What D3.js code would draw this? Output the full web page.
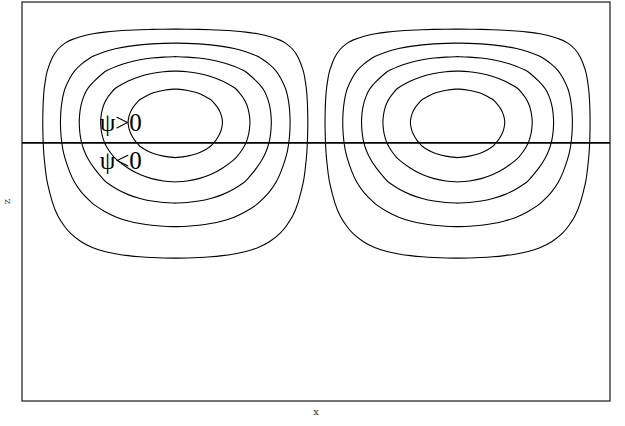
<!DOCTYPE html>
<html>
<head>
<meta charset="utf-8">
<script src="https://cdn.jsdelivr.net/npm/d3@7"></script>
<style>
  html, body { margin: 0; padding: 0; background: #ffffff; }
  svg { display: block; }
</style>
</head>
<body>
<svg id="chart" width="625" height="426"></svg>
<script>
// ---- Stream function data -------------------------------------------------
// Horizontal structure over one half cell (cell edge -> cell centre), evenly spaced.
const xHalfProfile = [0, 0.131, 0.259, 0.383, 0.5, 0.609, 0.707, 0.793, 0.866, 0.924, 0.966, 0.991, 1];
// Cell boundaries in x and the sign of psi in each cell.
const cellEdges = [0, 1, 2];
const cellSigns = [1, -1];
// Vertical structure: heights (z) and amplitude at each height.
const zSamples = [1.0, 0.947, 0.932, 0.897, 0.863, 0.827, 0.782, 0.774, 0.764, 0.754, 0.744, 0.734,
                  0.724, 0.714, 0.704, 0.699, 0.694, 0.684, 0.674, 0.664, 0.654, 0.644, 0.634,
                  0.624, 0.610, 0.549, 0.496, 0.437, 0.358, 0.328, 0.291, 0.253, 0.203, 0.128, 0.0];
const zProfile = [0, 0, 0.1, 0.3, 0.5, 0.7, 0.9, 0.924, 0.953, 0.978, 0.998, 1.015,
                  1.027, 1.035, 1.0395, 1.04, 1.0396, 1.036, 1.029, 1.018, 1.004, 0.986, 0.965,
                  0.94, 0.9, 0.7, 0.5, 0.3, 0.1, 0.065, 0.035, 0.018, 0.006, 0, 0];
// Contour levels of |psi|.
const levels = [0.1, 0.3, 0.5, 0.7, 0.9];
// Height of the dividing line and the sign annotations.
const dividerZ = 0.647;
const signLabels = ["ψ>0", "ψ<0"];
const signLabelX = [0.232, 0.232];
const signLabelZ = [0.677, 0.581];
// Axis titles and plot extent in data units.
const axisTitles = { x: "x", z: "z" };
const xExtent = [-0.043, 2.04];
const zExtent = [0, 1];

// ---- Layout ---------------------------------------------------------------
const svg = d3.select("#chart");
const plot = { left: 22, right: 610, top: 2, bottom: 401 };

const x = d3.scaleLinear().domain(xExtent).range([plot.left, plot.right]);
const y = d3.scaleLinear().domain(zExtent).range([plot.bottom, plot.top]);

// ---- Gridded field psi(x, z) = X(x) * Z(z) --------------------------------
const steps = xHalfProfile.length - 1;          // samples per half cell
const xCols = [], xVals = [];
cellSigns.forEach((s, c) => {
  const x0 = cellEdges[c], x1 = cellEdges[c + 1];
  for (let i = (c === 0 ? 0 : 1); i <= 2 * steps; i++) {
    const k = i <= steps ? i : 2 * steps - i;
    xCols.push(x0 + (x1 - x0) * i / (2 * steps));
    xVals.push(s * xHalfProfile[k]);
  }
});
const nx = xCols.length, ny = zSamples.length;
const field = new Array(nx * ny);
for (let j = 0; j < ny; j++) {
  for (let i = 0; i < nx; i++) field[j * nx + i] = xVals[i] * zProfile[j];
}

// grid coordinates -> data coordinates (grid sample i sits at i + 0.5)
const gx = d3.scaleLinear().domain(d3.range(nx).map(i => i + 0.5)).range(xCols);
const gz = d3.scaleLinear().domain(d3.range(ny).map(j => j + 0.5)).range(zSamples);

const contourGen = d3.contours().size([nx, ny]).thresholds(levels);
const positive = contourGen(field);
const negative = contourGen(field.map(v => -v));

const ring = d3.line()
  .x(p => x(gx(p[0])))
  .y(p => y(gz(p[1])))
  .curve(d3.curveBasisClosed);

const rings = [];
[positive, negative].forEach(set => set.forEach(mp => {
  mp.coordinates.forEach(poly => poly.forEach(r => rings.push(r.slice(0, -1))));
}));

// ---- Frame ----------------------------------------------------------------
svg.append("rect")
  .attr("x", plot.left).attr("y", plot.top)
  .attr("width", plot.right - plot.left).attr("height", plot.bottom - plot.top)
  .attr("fill", "none").attr("stroke", "#2a2a2a").attr("stroke-width", 1.3);

// ---- Contours -------------------------------------------------------------
svg.append("g")
  .selectAll("path")
  .data(rings)
  .join("path")
  .attr("d", ring)
  .attr("fill", "none")
  .attr("stroke", "#000")
  .attr("stroke-width", 1.1);

// ---- Dividing line --------------------------------------------------------
svg.append("line")
  .attr("x1", x(xExtent[0])).attr("x2", x(xExtent[1]))
  .attr("y1", y(dividerZ)).attr("y2", y(dividerZ))
  .attr("stroke", "#000").attr("stroke-width", 1.7);

// ---- Sign annotations -----------------------------------------------------
svg.append("g")
  .selectAll("text")
  .data(signLabels)
  .join("text")
  .attr("x", (d, i) => x(signLabelX[i]))
  .attr("y", (d, i) => y(signLabelZ[i]))
  .attr("font-family", "'Liberation Serif', 'Times New Roman', serif")
  .attr("font-size", 25)
  .attr("fill", "#000")
  .text(d => d);

// ---- Axis titles ----------------------------------------------------------
svg.append("text")
  .attr("x", (plot.left + plot.right) / 2)
  .attr("y", plot.bottom + 14)
  .attr("text-anchor", "middle")
  .attr("font-family", "'DejaVu Serif', serif")
  .attr("font-size", 10)
  .attr("fill", "#333")
  .text(axisTitles.x);

svg.append("text")
  .attr("transform", `translate(10, ${(plot.top + plot.bottom) / 2}) rotate(-90)`)
  .attr("text-anchor", "middle")
  .attr("font-family", "'DejaVu Serif', serif")
  .attr("font-size", 10)
  .attr("fill", "#333")
  .text(axisTitles.z);
</script>
</body>
</html>
